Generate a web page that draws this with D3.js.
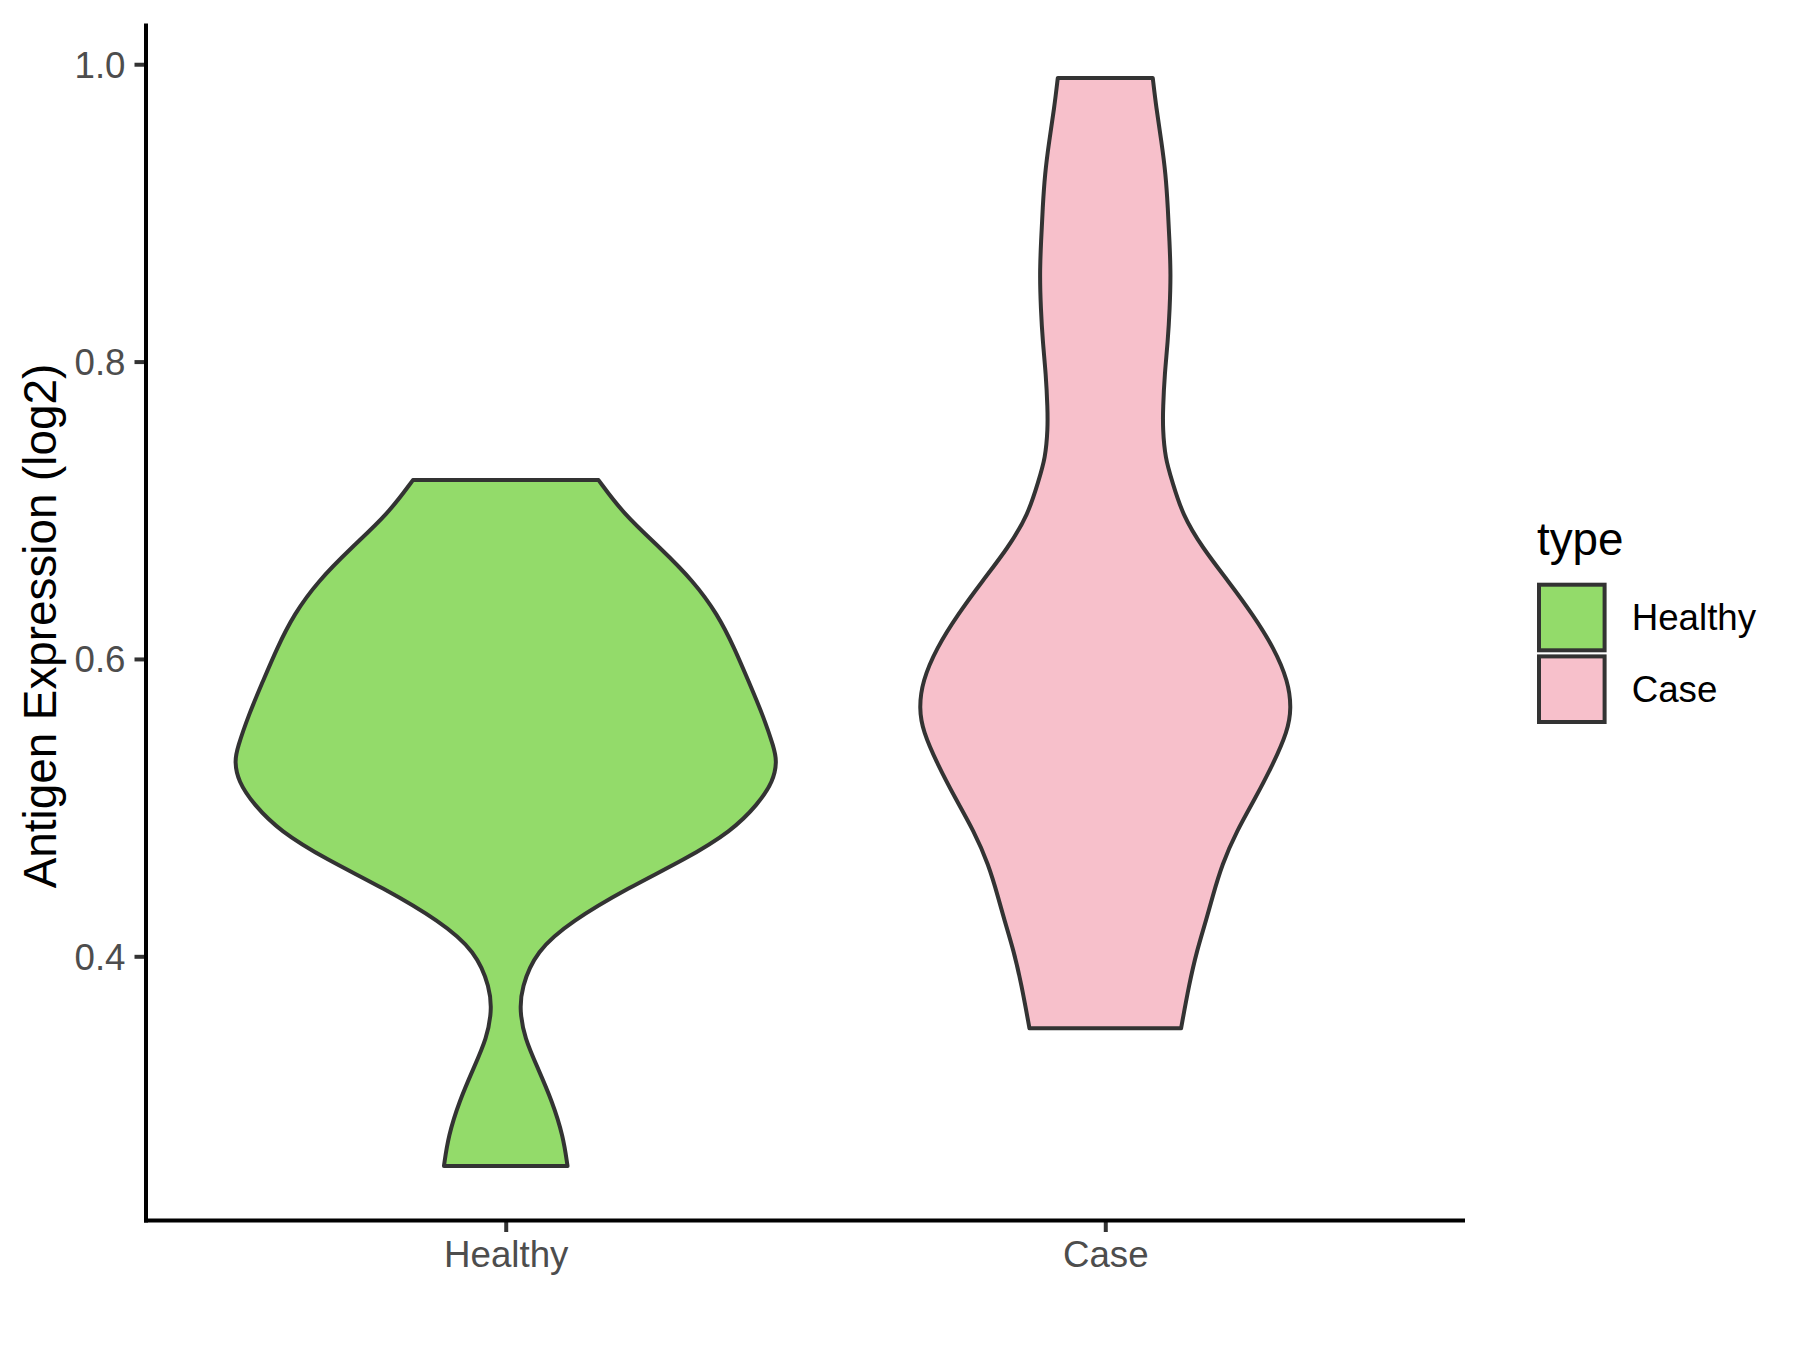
<!DOCTYPE html>
<html>
<head>
<meta charset="utf-8">
<script src="https://cdn.jsdelivr.net/npm/d3@7"></script>
<style>
  body { margin: 0; background: #fff; }
  text { font-family: "Liberation Sans", Arial, sans-serif; }
</style>
</head>
<body>
<svg id="chart"></svg>
<script>
// categories and colours
const categories = ['Healthy', 'Case'];
const fillColors = ['#93DB6A', '#F7C0CB'];

// density profiles (expression value, relative width)
const healthyValues = [0.7203, 0.6974, 0.6745, 0.6523, 0.6301, 0.6072, 0.5850, 0.5628, 0.5400, 0.5312,
  0.5178, 0.5023, 0.4842, 0.4654, 0.4458, 0.4236, 0.4035, 0.3786, 0.3631, 0.3450, 0.3248, 0.3026, 0.2791, 0.2589];
const healthyWidths = [0.344, 0.437, 0.574, 0.696, 0.785, 0.848, 0.900, 0.952, 0.995, 1.005,
  0.992, 0.935, 0.837, 0.667, 0.452, 0.244, 0.112, 0.058, 0.052, 0.070, 0.119, 0.172, 0.213, 0.229];

const caseValues = [0.9908, 0.9707, 0.9483, 0.9261, 0.9033, 0.8810, 0.8588, 0.8359, 0.8137, 0.7915,
  0.7687, 0.7552, 0.7350, 0.7196, 0.6974, 0.6745, 0.6523, 0.6301, 0.6072, 0.5850, 0.5668, 0.5514,
  0.5292, 0.5063, 0.4842, 0.4620, 0.4391, 0.4256, 0.4035, 0.3813, 0.3516];
const caseWidths = [0.176, 0.189, 0.208, 0.224, 0.232, 0.238, 0.243, 0.239, 0.232, 0.220,
  0.214, 0.213, 0.222, 0.248, 0.285, 0.361, 0.456, 0.546, 0.626, 0.678, 0.690, 0.676,
  0.622, 0.556, 0.487, 0.433, 0.396, 0.376, 0.339, 0.311, 0.281];

const yTicks = [0.4, 0.6, 0.8, 1.0];

const series = [
  {name: 'Healthy', values: healthyValues, widths: healthyWidths},
  {name: 'Case', values: caseValues, widths: caseWidths}
];

const width = 1800, height = 1350;
const margin = {top: 23.5, right: 335, bottom: 129.5, left: 146};

const svg = d3.select('#chart')
  .attr('width', width)
  .attr('height', height);

// y domain: data range with 5% expansion, like ggplot
const allVals = healthyValues.concat(caseValues);
const yMin = d3.min(allVals), yMax = d3.max(allVals);
const pad = (yMax - yMin) * 0.05;

const yScale = d3.scaleLinear()
  .domain([yMin - pad, yMax + pad])
  .range([height - margin.bottom, margin.top]);

const xScale = d3.scalePoint()
  .domain(categories)
  .range([margin.left, width - margin.right])
  .padding(0.6);

const color = d3.scaleOrdinal().domain(categories).range(fillColors);
const maxHalf = xScale.step() * 0.45;

// violins
series.forEach(s => {
  const cx = xScale(s.name);
  const pts = s.values.map((v, i) => ({v: v, w: s.widths[i]}));
  const area = d3.area()
    .y(d => yScale(d.v))
    .x0(d => cx - d.w * maxHalf)
    .x1(d => cx + d.w * maxHalf)
    .curve(d3.curveBasis);
  svg.append('path')
    .datum(pts)
    .attr('d', area)
    .attr('fill', color(s.name))
    .attr('stroke', '#333333')
    .attr('stroke-width', 4)
    .attr('stroke-linejoin', 'round');
});

// axes
const yAxis = d3.axisLeft(yScale)
  .tickValues(yTicks)
  .tickFormat(d3.format('.1f'))
  .tickSize(11.5)
  .tickPadding(9);

const xAxis = d3.axisBottom(xScale)
  .tickSize(11.5)
  .tickPadding(9);

const yAxisG = svg.append('g')
  .attr('transform', `translate(${margin.left},0)`)
  .call(yAxis);

const xAxisG = svg.append('g')
  .attr('transform', `translate(0,${height - margin.bottom})`)
  .call(xAxis);

[yAxisG, xAxisG].forEach(g => {
  g.select('.domain').remove();
  g.selectAll('.tick line').attr('stroke', '#333333').attr('stroke-width', 4);
  g.selectAll('.tick text')
    .attr('fill', '#4D4D4D')
    .style('font-size', '36.7px')
    .style('font-family', '"Liberation Sans", Arial, sans-serif');
});
yAxisG.selectAll('.tick text').attr('dy', '0.35em');
xAxisG.selectAll('.tick text').attr('dy', '0.72em');

// axis lines
svg.append('line')
  .attr('x1', margin.left).attr('x2', margin.left)
  .attr('y1', margin.top).attr('y2', height - margin.bottom + 2)
  .attr('stroke', '#000').attr('stroke-width', 4);
svg.append('line')
  .attr('x1', margin.left - 2).attr('x2', width - margin.right)
  .attr('y1', height - margin.bottom).attr('y2', height - margin.bottom)
  .attr('stroke', '#000').attr('stroke-width', 4);

// y title
svg.append('text')
  .attr('transform', `translate(56,${(margin.top + height - margin.bottom) / 2 + 4}) rotate(-90)`)
  .attr('text-anchor', 'middle')
  .style('font-size', '45.8px')
  .attr('fill', '#000')
  .text('Antigen Expression (log2)');

// legend
const legend = svg.append('g').attr('transform', 'translate(1537,0)');
legend.append('text')
  .attr('x', 0).attr('y', 555)
  .style('font-size', '45.8px')
  .attr('fill', '#000')
  .text('type');

categories.forEach((c, i) => {
  const cy = 617.5 + i * 71.7;
  legend.append('rect')
    .attr('x', 2).attr('y', cy - 32.8)
    .attr('width', 65.6).attr('height', 65.6)
    .attr('fill', color(c))
    .attr('stroke', '#333333')
    .attr('stroke-width', 4);
  legend.append('text')
    .attr('x', 94.7).attr('y', cy)
    .attr('dy', '0.35em')
    .style('font-size', '36.7px')
    .attr('fill', '#000')
    .text(c);
});
</script>
</body>
</html>
